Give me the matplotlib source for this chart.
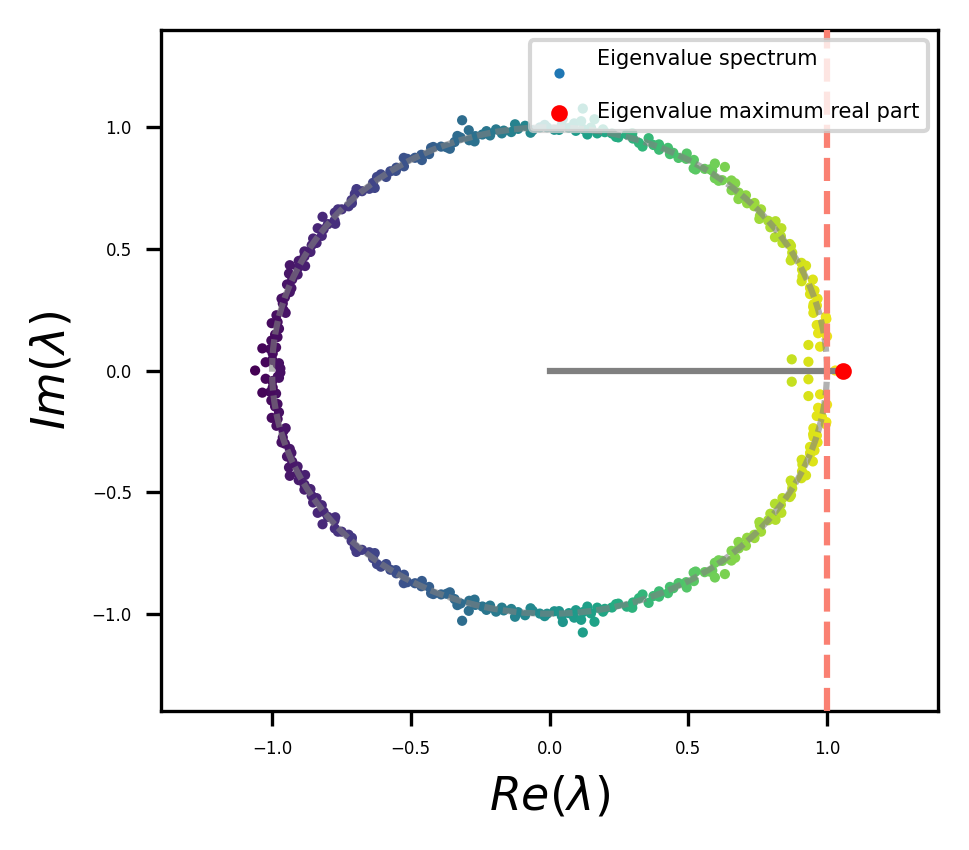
import matplotlib.pyplot as plt
import numpy as np

# upper half of the spectrum (conjugates added below)
ring_angle_deg = [8, 9.5, 11, 12.5, 14, 15.5, 17, 18.5, 20, 21.5,
                  23, 24.5, 26, 27.5, 29, 30.5, 32, 33.5, 35, 36.5,
                  38, 39.5, 41, 42.5, 44, 45.5, 47, 48.5, 50, 51.5,
                  53, 54.5, 56, 57.5, 59, 60.5, 62, 63.5, 65, 66.5,
                  68, 69.5, 71, 72.5, 74, 75.5, 77, 78.5, 80, 81.5,
                  83, 84.5, 86, 87.5, 89, 90.5, 92, 93.5, 95, 96.5,
                  98, 99.5, 101, 102.5, 104, 105.5, 107, 108.5, 110, 111.5,
                  113, 114.5, 116, 117.5, 119, 120.5, 122, 123.5, 125, 126.5,
                  128, 129.5, 131, 132.5, 134, 135.5, 137, 138.5, 140, 141.5,
                  143, 144.5, 146, 147.5, 149, 150.5, 152, 153.5, 155, 156.5,
                  158, 159.5, 161, 162.5, 164, 165.5, 167, 168.5, 170, 171.5,
                  173, 174.5, 176, 177.5]
ring_radius = [1.01, 0.99, 1.00, 1.02, 0.98, 1.00, 1.01, 0.99, 1.00, 1.02,
               0.99, 1.00, 1.01, 0.98, 1.00, 1.01, 0.99, 1.00, 1.02, 0.99,
               1.00, 0.98, 1.01, 1.00, 0.99, 1.01, 1.00, 0.99, 1.02, 1.00,
               0.99, 1.01, 1.00, 0.98, 1.01, 1.00, 0.99, 1.00, 1.01, 0.99,
               1.00, 1.02, 0.99, 1.00, 1.01, 0.99, 1.00, 1.00, 0.99, 1.01,
               1.00, 0.99, 1.00, 1.01, 0.99, 1.00, 1.00, 0.99, 1.01, 1.00,
               0.99, 1.00, 1.01, 0.99, 1.00, 1.00, 0.99, 1.01, 1.00, 0.98,
               1.00, 1.01, 0.99, 1.00, 1.00, 1.01, 0.99, 1.00, 1.00, 0.99,
               1.01, 1.00, 0.99, 1.00, 1.01, 1.00, 0.99, 1.00, 1.01, 0.99,
               1.00, 1.00, 0.99, 1.01, 1.00, 0.99, 1.00, 1.01, 1.00, 0.99,
               1.00, 1.01, 0.99, 1.00, 1.00, 0.99, 1.01, 1.00, 0.99, 1.00,
               1.01, 0.99, 1.00, 1.00]

# second pass along the ring, the band is thicker than one row of dots
ring2_angle_deg = [9, 12, 16, 19, 22, 25, 28, 31, 34, 37,
                   40, 43, 46, 49, 52, 55, 58, 61, 64, 67,
                   70, 73, 76, 79, 82, 85, 88, 91, 94, 97,
                   100, 103, 106, 109, 112, 115, 118, 121, 124, 127,
                   130, 133, 136, 139, 142, 145, 148, 151, 154, 157,
                   160, 163, 166, 169, 172, 175, 178.5, 179.5]
ring2_radius = [0.98, 1.02, 0.99, 1.01, 0.98, 1.02, 0.99, 1.01, 0.98, 1.02,
                0.99, 1.01, 0.98, 1.02, 0.99, 1.01, 0.98, 1.02, 0.99, 1.01,
                0.98, 1.02, 0.99, 1.01, 0.98, 1.02, 0.99, 1.01, 0.98, 1.02,
                0.99, 1.01, 0.98, 1.02, 0.99, 1.01, 0.98, 1.02, 0.99, 1.01,
                0.98, 1.02, 0.99, 1.01, 0.98, 1.02, 0.99, 1.01, 0.98, 1.02,
                0.99, 1.01, 0.98, 1.02, 0.99, 1.01, 0.98, 0.97]

# stray eigenvalues off the ring (upper half)
extra_re = [0.873, 0.933, 0.933, 0.975, 0.939, 0.950, 0.963, 0.980, 0.596, 0.632,
            0.114, 0.120, 0.162, 0.048, -0.291, -0.315, -0.818, -0.936, -1.035, -1.023,
            -0.975]
extra_im = [0.046, 0.036, 0.105, 0.098, 0.339, 0.262, 0.187, 0.160, 0.851, 0.837,
            1.025, 1.077, 1.033, 1.034, 0.988, 1.029, 0.632, 0.433, 0.091, 0.034,
            0.030]

# purely real eigenvalues
real_eigs = [-1.061, 1.030, 1.059]

upper = np.concatenate([
    np.array(ring_radius) * np.exp(1j * np.deg2rad(ring_angle_deg)),
    np.array(ring2_radius) * np.exp(1j * np.deg2rad(ring2_angle_deg)),
    np.array(extra_re) + 1j * np.array(extra_im),
])
eigs = np.concatenate([upper, np.conj(upper), np.array(real_eigs, dtype=complex)])

imax = np.argmax(eigs.real)
lam_max = eigs[imax]

fig = plt.figure(figsize=(969 / 300, 850 / 300), dpi=300)
ax = fig.add_axes([0.1662, 0.1635, 0.8018, 0.8012])

ax.scatter(eigs.real, eigs.imag, c=eigs.real, cmap="viridis", s=6, linewidths=0, zorder=2)
# legend proxy, the real scatter is colour mapped
ax.scatter([], [], s=6, color="C0", linewidths=0, label="Eigenvalue spectrum\n")

t = np.linspace(0, 2 * np.pi, 400)
ax.plot(np.cos(t), np.sin(t), color="gray", alpha=0.6, lw=1.5, ls=(0, (2.2, 0.8)), zorder=3)
ax.plot([0, lam_max.real], [0, lam_max.imag], color="gray", lw=1.5, zorder=3)
ax.axvline(1.0, color="salmon", ls="--", lw=1.5, zorder=4)
ax.scatter([lam_max.real], [lam_max.imag], color="red", s=9, zorder=5,
           label="Eigenvalue maximum real part")

ax.set_xlim(-1.4, 1.4)
ax.set_ylim(-1.4, 1.4)
ax.set_xticks([-1.0, -0.5, 0.0, 0.5, 1.0])
ax.set_yticks([-1.0, -0.5, 0.0, 0.5, 1.0])
ax.tick_params(labelsize=4)
ax.set_xlabel(r"$Re(\lambda)$", fontsize=11)
ax.set_ylabel(r"$Im(\lambda)$", fontsize=11)
ax.legend(loc="upper right", fontsize=5)

fig.savefig("out.png", dpi=300)
